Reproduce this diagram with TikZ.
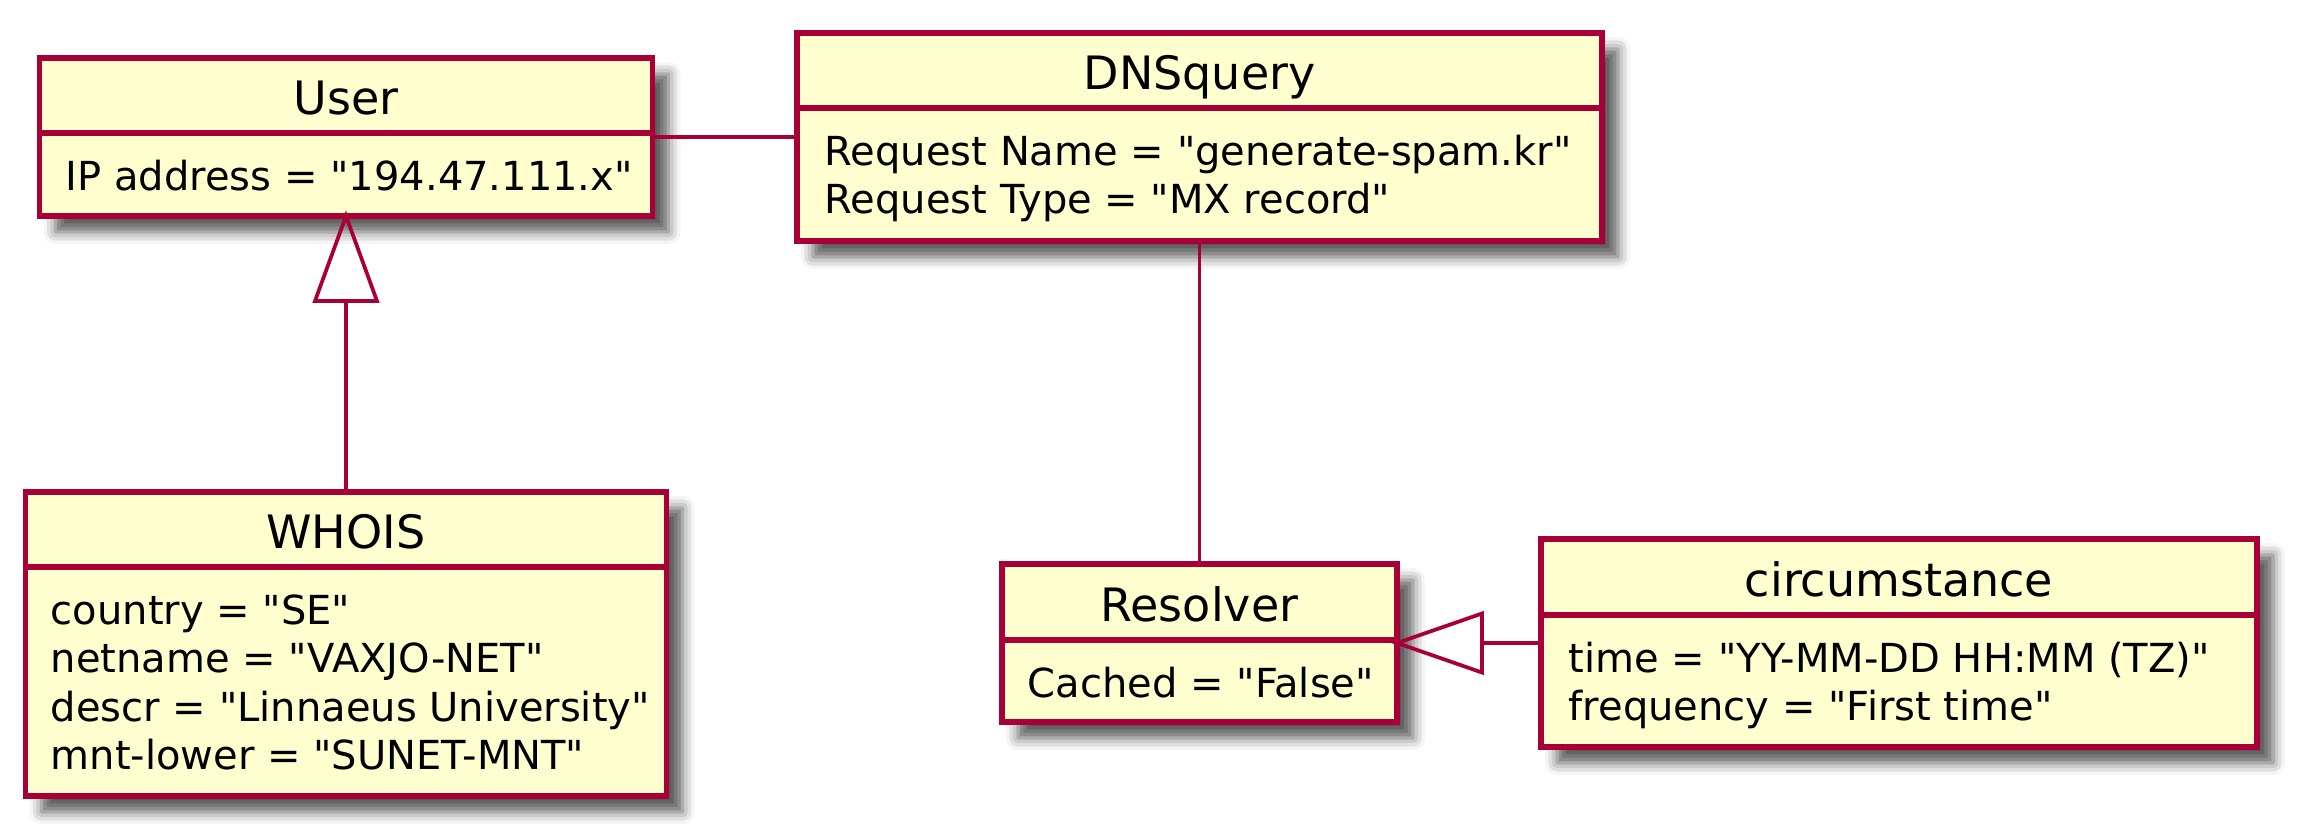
\documentclass[tikz,border=0pt]{standalone}
\usepackage{fontspec}
\newfontfamily\umlfont{DejaVu Sans}
\usetikzlibrary{shadows.blur}

\definecolor{umlred}{RGB}{168,0,54}
\definecolor{umlyellow}{RGB}{254,254,206}

\tikzset{every picture/.style={line width=3.75pt}}
\tikzset{
  classbox/.style={draw=umlred, fill=umlyellow, line width=5.5pt, inner sep=0pt, outer sep=0pt,
    blur shadow={shadow xshift=16pt, shadow yshift=-16pt, shadow blur radius=12pt, shadow opacity=65}},
  classline/.style={draw=umlred, line width=5.5pt},
  umlline/.style={draw=umlred, line width=3.75pt},
  classtitle/.style={anchor=base, inner sep=0pt, font=\umlfont\fontsize{46}{55}\selectfont},
  classattr/.style={anchor=base west, inner sep=0pt, font=\umlfont\fontsize{40}{48}\selectfont}
}

\begin{document}
\begin{tikzpicture}[x=1pt,y=1pt,yscale=-1,xscale=1]
\useasboundingbox (0,0) rectangle (2297,838);

%Class: User
\node [classbox, minimum width=613pt, minimum height=158pt] (user) at (346,137) {};
\draw [classline] (39.5,133) -- (652.5,133);
%Class: DNSquery
\node [classbox, minimum width=805pt, minimum height=208pt] (dns) at (1199.5,137) {};
\draw [classline] (797,108) -- (1602,108);
%Class: WHOIS
\node [classbox, minimum width=641pt, minimum height=304pt] (whois) at (346,644) {};
\draw [classline] (25.5,567) -- (666.5,567);
%Class: Resolver
\node [classbox, minimum width=395pt, minimum height=158pt] (resolver) at (1199.5,643) {};
\draw [classline] (1002,640) -- (1397,640);
%Class: circumstance
\node [classbox, minimum width=716pt, minimum height=208pt] (circ) at (1899,643) {};
\draw [classline] (1541,615) -- (2257,615);

%Association lines
\draw [umlline] (user.east) -- (dns.west);
\draw [umlline] (dns.south) -- (resolver.north);

%Generalization: WHOIS to User
\path (user.south) ++(0,85) coordinate (userbase);
\draw [umlline] (whois.north) -- (userbase);
\draw [umlline, shift={(user.south)}] (0,0) -- (31,85) -- (-31,85) -- cycle;
%Generalization: circumstance to Resolver
\path (resolver.east) ++(85,0) coordinate (resolverbase);
\draw [umlline] (circ.west) -- (resolverbase);
\draw [umlline, shift={(resolver.east)}] (0,0) -- (85,-29.5) -- (85,29.5) -- cycle;

% Text Node
\draw (346,114.5) node [classtitle] (usertitle) {User};
\draw (64,190) node [classattr] (userattr) {IP address = "194.47.111.x"};
% Text Node
\draw (1199.5,89.5) node [classtitle] (dnstitle) {DNSquery};
\draw (823,165) node [classattr] (dnsname) {Request Name = "generate-spam.kr"};
\draw (823,213) node [classattr] (dnstype) {Request Type = "MX record"};
% Text Node
\draw (346,548) node [classtitle] (whoistitle) {WHOIS};
\draw (49,624) node [classattr] (whoiscountry) {country = "SE"};
\draw (49,672.5) node [classattr] (whoisnet) {netname = "VAXJO-NET"};
\draw (49,721) node [classattr] (whoisdescr) {descr = "Linnaeus University"};
\draw (49,769.5) node [classattr] (whoismnt) {mnt-lower = "SUNET-MNT"};
% Text Node
\draw (1199.5,621.5) node [classtitle] (resolvertitle) {Resolver};
\draw (1026,697) node [classattr] (resolverattr) {Cached = "False"};
% Text Node
\draw (1899,596.5) node [classtitle] (circtitle) {circumstance};
\draw (1567,672) node [classattr] (circtime) {time = "YY-MM-DD HH:MM (TZ)"};
\draw (1567,720) node [classattr] (circfreq) {frequency = "First time"};

\end{tikzpicture}
\end{document}
